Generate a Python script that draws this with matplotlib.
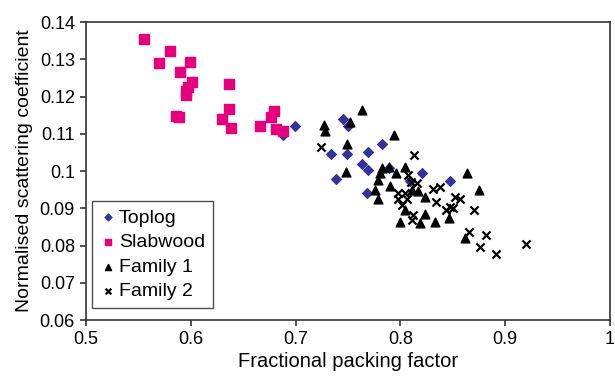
import numpy as np
import matplotlib
matplotlib.use('Agg')
import matplotlib.pyplot as plt

plt.rcParams['font.family'] = ['Liberation Sans', 'DejaVu Sans']

toplog_x = [0.688, 0.699, 0.745, 0.750, 0.734, 0.749, 0.769, 0.782, 0.763, 0.769,
            0.738, 0.789, 0.768, 0.821, 0.809, 0.847]
toplog_y = [0.1097, 0.1121, 0.1139, 0.1121, 0.1047, 0.1046, 0.1052, 0.1072, 0.1020, 0.1003,
            0.0978, 0.1007, 0.0940, 0.0996, 0.0973, 0.0972]

slab_x = [0.555, 0.580, 0.570, 0.599, 0.590, 0.601, 0.597, 0.595, 0.595, 0.586,
          0.589, 0.636, 0.636, 0.630, 0.638, 0.666, 0.679, 0.676, 0.681, 0.688]
slab_y = [0.1354, 0.1322, 0.1289, 0.1292, 0.1266, 0.1239, 0.1226, 0.1215, 0.1204, 0.1148,
          0.1145, 0.1233, 0.1166, 0.1140, 0.1116, 0.1121, 0.1162, 0.1144, 0.1113, 0.1107]

fam1_x = [0.763, 0.727, 0.728, 0.752, 0.749, 0.748, 0.794, 0.782, 0.789, 0.780,
          0.779, 0.7955, 0.804, 0.790, 0.776, 0.779, 0.8165, 0.8235, 0.8045, 0.8235,
          0.819, 0.833, 0.846, 0.800, 0.811, 0.863, 0.875, 0.862]
fam1_y = [0.1164, 0.1123, 0.1107, 0.1133, 0.1073, 0.0998, 0.1097, 0.1007, 0.1010, 0.0994,
          0.0975, 0.0994, 0.1012, 0.0960, 0.0949, 0.0925, 0.0947, 0.0931, 0.0895, 0.0886,
          0.0861, 0.0864, 0.0873, 0.0864, 0.0949, 0.0995, 0.0949, 0.0819]

fam2_x = [0.724, 0.813, 0.8075, 0.810, 0.8155, 0.798, 0.8045, 0.798, 0.806, 0.801,
          0.831, 0.838, 0.834, 0.843, 0.847, 0.812, 0.811, 0.852, 0.857, 0.8505,
          0.870, 0.865, 0.882, 0.876, 0.891, 0.920]
fam2_y = [0.1064, 0.1043, 0.0989, 0.0971, 0.0967, 0.0940, 0.0940, 0.0924, 0.0924, 0.0909,
          0.0953, 0.0958, 0.0918, 0.0895, 0.0904, 0.0882, 0.0868, 0.0931, 0.0924, 0.0900,
          0.0895, 0.0837, 0.0828, 0.0797, 0.0777, 0.0804]

fig = plt.figure(figsize=(6.15, 3.81), dpi=100)
ax = fig.add_axes([0.140, 0.160, 0.852, 0.782])

ax.scatter(toplog_x, toplog_y, marker='D', s=24, color='#333399', label='Toplog', zorder=3)
ax.scatter(slab_x, slab_y, marker='s', s=44, color='#e6007e', label='Slabwood', zorder=3)
ax.scatter(fam1_x, fam1_y, marker='^', s=40, color='black', label='Family 1', zorder=3)
ax.scatter(fam2_x, fam2_y, marker='x', s=34, color='black', linewidths=1.6,
           label='Family 2', zorder=3)

ax.set_xlim(0.5, 1.0)
ax.set_ylim(0.06, 0.14)
ax.set_xticks([0.5, 0.6, 0.7, 0.8, 0.9, 1.0])
ax.set_xticklabels(['0.5', '0.6', '0.7', '0.8', '0.9', '1'])
ax.set_yticks(np.arange(0.06, 0.1401, 0.01))
ax.set_yticklabels(['0.06', '0.07', '0.08', '0.09', '0.1', '0.11', '0.12', '0.13', '0.14'])
ax.tick_params(labelsize=13, direction='out', length=4, width=1.2, color='#333333', pad=4)
for sp in ax.spines.values():
    sp.set_linewidth(1.2)
    sp.set_color('#333333')

ax.set_xlabel('Fractional packing factor', fontsize=14.5, labelpad=3)
ax.set_ylabel('Normalised scattering coefficient', fontsize=14, labelpad=5)

leg = ax.legend(loc='lower left', bbox_to_anchor=(0.011, 0.04), borderaxespad=0,
                fontsize=14, frameon=True, fancybox=False,
                handletextpad=0.1, handlelength=0.9, borderpad=0.4, labelspacing=0.36,
                markerscale=0.7)
leg.get_frame().set_edgecolor('#222222')
leg.get_frame().set_linewidth(1.0)

fig.savefig('out.png', dpi=100)
